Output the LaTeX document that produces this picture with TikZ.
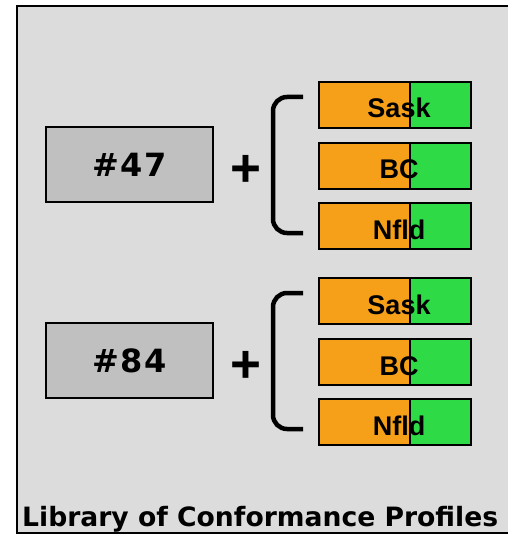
\documentclass[tikz,border=0pt]{standalone}
\usepackage{fontspec}
\setmainfont{Liberation Sans}
\newfontfamily\dejabold{DejaVu Sans}[BoldFont={DejaVu Sans Bold}]
\definecolor{bgray}{HTML}{DCDCDC}
\definecolor{boxgray}{HTML}{C0C0C0}
\definecolor{orng}{HTML}{F69F18}
\definecolor{grn}{HTML}{2EDB46}
\tikzset{
  numbox/.style={draw=black, line width=1.6pt, fill=boxgray, minimum width=167bp, minimum height=75bp, inner sep=0pt,
    font=\dejabold\bfseries\fontsize{32bp}{36bp}\selectfont\addfontfeature{LetterSpace=4}},
  orpart/.style={draw=black, line width=1.6pt, fill=orng},
  grpart/.style={draw=black, line width=1.6pt, fill=grn},
  bartext/.style={anchor=base, inner sep=0pt, font=\bfseries\fontsize{27bp}{30bp}\selectfont},
  plustext/.style={inner sep=0pt, font=\bfseries\fontsize{53bp}{55bp}\selectfont},
  brace/.style={line width=4.5bp, rounded corners=14bp, line cap=butt},
  titletext/.style={anchor=base west, inner sep=0pt, font=\dejabold\bfseries\fontsize{26.6bp}{30bp}\selectfont},
}
\begin{document}
\begin{tikzpicture}[x=1bp, y=-1bp]
\useasboundingbox (0,0) rectangle (508,535);
\fill[white] (0,0) rectangle (508,535);
\draw[fill=bgray, line width=1.6pt] (17,6) rectangle (520,533);
\foreach \g/\num/\dy in {a/47/0, b/84/196} {
  \node[numbox] (num\g) at (129.5,164.5+\dy) {\#\num};
  \node[plustext] (plus\g) at (246,171+\dy) {+};
  \foreach \r/\lab/\top in {1/Sask/82, 2/BC/143, 3/Nfld/203} {
    \path[orpart] (319,\top+\dy) rectangle (410,\top+\dy+46);
    \path[grpart] (410,\top+\dy) rectangle (471,\top+\dy+46);
    \node[bartext] (lab\g\r) at (399,\top+\dy+36) {\lab};
  }
  \coordinate (bt\g) at (303,97+\dy);
  \coordinate (bb\g) at (303,233+\dy);
  \draw[brace] (bt\g) -- (273,97+\dy) -- (273,233+\dy) -- (bb\g);
}
\node[titletext] (title) at (22,526) {Library of Conformance Profiles};
\end{tikzpicture}
\end{document}
